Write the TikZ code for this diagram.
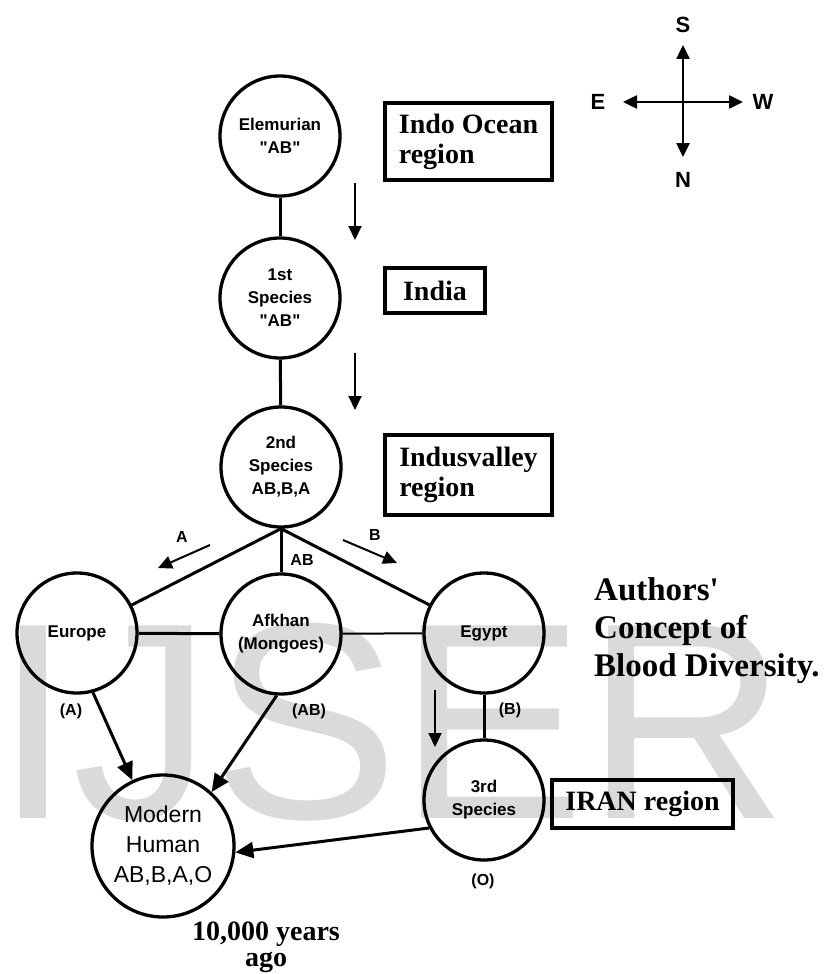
\documentclass[tikz,border=0pt]{standalone}
\usepackage{fontspec}
\newfontfamily\serifplain{Liberation Serif}
\newfontfamily\sansplain{Liberation Sans}
\usetikzlibrary{arrows.meta}
\definecolor{wmgray}{RGB}{218,218,218}
\begin{document}
\begin{tikzpicture}[x=1pt,y=-1pt,
  circ/.style={circle,draw,line width=3.3pt,minimum size=120pt,inner sep=0pt,align=center,
    font=\sansplain\bfseries\fontsize{17}{23}\selectfont},
  regbox/.style={draw,line width=3.5pt,inner sep=0pt,align=left,
    font=\serifplain\bfseries\fontsize{28}{30}\selectfont},
  conn/.style={line width=3pt},
  bigtip/.style={-{Triangle[length=18pt,width=16pt]}},
  smallarrow/.style={line width=2pt,-{Triangle[length=14pt,width=13pt]}},
  lab/.style={font=\sansplain\bfseries\fontsize{16}{18}\selectfont,inner sep=0pt},
  serifbig/.style={font=\serifplain\bfseries\fontsize{28}{30}\selectfont,inner sep=0pt},
  serifhuge/.style={font=\serifplain\bfseries\fontsize{33}{38}\selectfont,inner sep=0pt},
  compl/.style={font=\sansplain\bfseries\fontsize{22}{24}\selectfont,inner sep=0pt}
]
\useasboundingbox (0,0) rectangle (831,974);

% watermark
\node[anchor=base west,inner sep=0pt,text=wmgray,font=\sansplain\fontsize{280}{280}\selectfont] (wm) at (-6,818) {IJSER};

% circles
\node[circ] (elem) at (280,136) {Elemurian\\"AB"};
\node[circ] (s1) at (280,298) {1st\\Species\\"AB"};
\node[circ] (s2) at (281,467) {2nd\\Species\\AB,B,A};
\node[circ] (europe) at (77,633) {Europe};
\node[circ] (afkhan) at (281,634) {Afkhan\\(Mongoes)};
\node[circ] (egypt) at (484,633) {Egypt};
\node[circ] (s3) at (484,800) {3rd\\Species};
\node[circ,minimum size=142pt,font=\sansplain\fontsize{23}{30}\selectfont] (modern) at (163,846) {Modern\\Human\\AB,B,A,O};

% region boxes
\node[regbox,minimum width=167pt,minimum height=77pt] (indo) at (468.5,141.5) {Indo Ocean\\region};
\node[regbox,minimum width=100pt,minimum height=45pt] (india) at (435,290.5) {India};
\node[regbox,minimum width=167pt,minimum height=80pt] (indus) at (468.5,475) {Indusvalley\\region};
\node[regbox,minimum width=181pt,minimum height=48pt] (iran) at (642.5,804) {IRAN region};

% connectors
\draw[conn] (elem) -- (s1);
\draw[conn] (s1) -- (s2);
\draw[conn] (s2.south) -- (europe);
\draw[conn] (s2.south) -- (afkhan.north);
\draw[conn] (s2.south) -- (egypt);
\draw[conn] (europe) -- (afkhan);
\draw[line width=2pt] (afkhan) -- (egypt);
\draw[conn] (egypt.south) -- (s3.north);
\draw[conn,bigtip] (europe.-75) -- (modern.115);
\draw[conn,bigtip] (afkhan.-94) -- (modern.48);
\draw[conn,bigtip] (s3.207) -- (modern.-5);

% direction arrows
\coordinate (d1a) at (355,183); \coordinate (d1b) at (355,240);
\coordinate (d2a) at (355,353); \coordinate (d2b) at (355,410);
\coordinate (d3a) at (435,690); \coordinate (d3b) at (435,747);
\coordinate (aa) at (210,545); \coordinate (ab) at (158,568);
\coordinate (ba) at (343,540); \coordinate (bb) at (397,563);
\draw[smallarrow] (d1a) -- (d1b);
\draw[smallarrow] (d2a) -- (d2b);
\draw[smallarrow] (d3a) -- (d3b);
\draw[smallarrow] (aa) -- (ab);
\draw[smallarrow] (ba) -- (bb);

% labels
\node[lab] (lA) at (182,537) {A};
\node[lab] (lB) at (375,535) {B};
\node[lab] (lAB) at (302,560) {AB};
\node[lab] (pA) at (71,711) {(A)};
\node[lab] (pAB) at (309,711) {(AB)};
\node[lab] (pB) at (510,710) {(B)};
\node[lab] (pO) at (483,881) {(O)};

% side texts
\node[serifhuge,anchor=base west] (t1) at (594,600) {Authors'};
\node[serifhuge,anchor=base west] (t2) at (594,638) {Concept of};
\node[serifhuge,anchor=base west] (t3) at (594,676) {Blood Diversity.};
\node[serifbig,anchor=base] (y1) at (266,940) {10,000 years};
\node[serifbig,anchor=base] (y2) at (266,966) {ago};

% compass
\coordinate (cn) at (683,45); \coordinate (cs) at (683,157);
\coordinate (ce) at (623,102); \coordinate (cw) at (743,102);
\draw[line width=2.5pt,{Triangle[length=14pt,width=13pt]}-{Triangle[length=14pt,width=13pt]}] (cn) -- (cs);
\draw[line width=2.5pt,{Triangle[length=14pt,width=13pt]}-{Triangle[length=14pt,width=13pt]}] (ce) -- (cw);
\node[compl] (cS) at (683,25) {S};
\node[compl] (cN) at (683,180) {N};
\node[compl] (cE) at (598,102) {E};
\node[compl] (cW) at (763,102) {W};
\end{tikzpicture}
\end{document}
